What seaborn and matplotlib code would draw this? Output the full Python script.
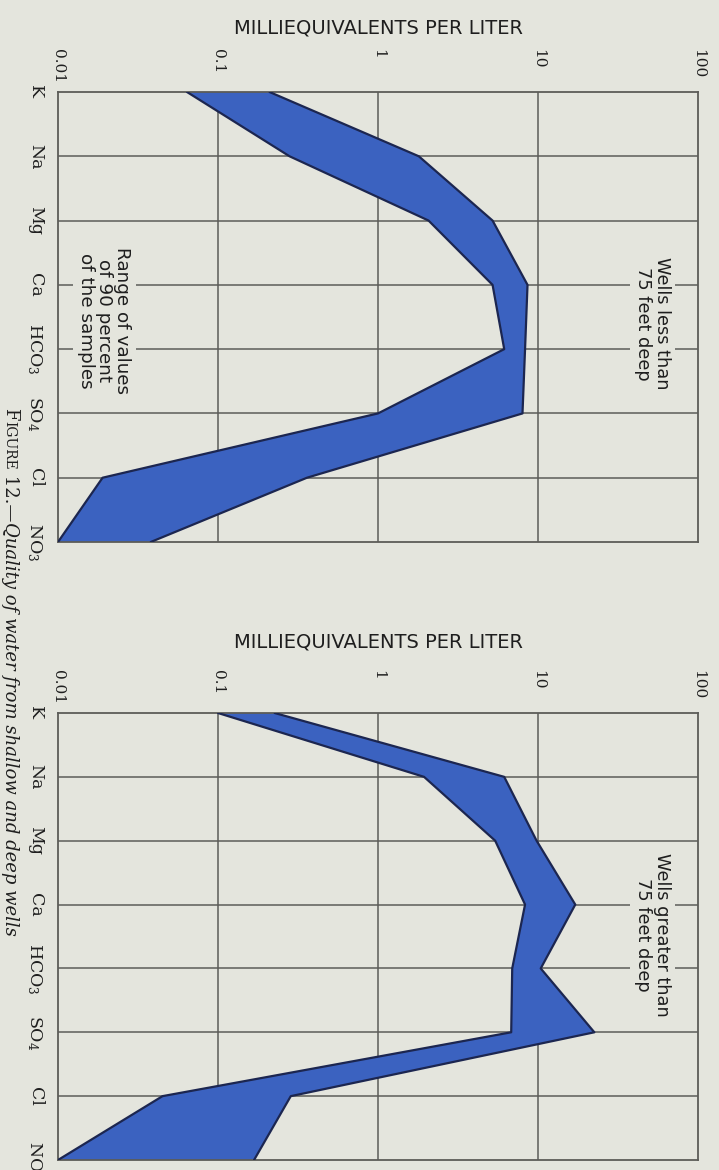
"""
plot.py
Quality of water from shallow and deep wells (Figure 12), page turned sideways.

Salida: out.png (719x1170)
"""

import numpy as np
import pandas as pd
import matplotlib
matplotlib.use("Agg")
import matplotlib.pyplot as plt
import seaborn as sns

# DATOS

IONS = ["K", "Na", "Mg", "Ca", "HCO$_3$", "SO$_4$", "Cl", "NO$_3$"]
TICK_VALUES = [0.01, 0.1, 1, 10, 100]
TICK_LABELS = ["0.01", "0.1", "1", "10", "100"]

# range of values of 90 percent of the samples, milliequivalents per liter
SHALLOW_LOW = [0.064, 0.28, 2.07, 5.2, 6.15, 1.0, 0.019, 0.01]
SHALLOW_HIGH = [0.21, 1.8, 5.2, 8.6, 8.3, 8.0, 0.36, 0.038]

DEEP_LOW = [0.10, 1.94, 5.4, 8.3, 6.9, 6.8, 0.045, 0.01]
DEEP_HIGH = [0.226, 6.15, 9.8, 17.1, 10.4, 22.5, 0.285, 0.168]

TITLE = "MILLIEQUIVALENTS PER LITER"
CAPTION_PARTS = [
    ("F", 13, "normal"),
    ("IGURE", 10, "normal"),
    (" 12.\u2014", 13, "normal"),
    ("Quality of water from shallow and deep wells", 13, "italic"),
]

# CONFIGURACION

W, H = 719, 1170
BG = "#e4e5dd"
FILL = "#3b62c0"
EDGE = "#1c2650"
GRID = "#5c5c58"
INK = "#1e1e1e"

sns.set_theme(style="white", rc={"axes.facecolor": BG, "figure.facecolor": BG})
plt.rcParams["font.family"] = ["DejaVu Sans"]
plt.rcParams["mathtext.fontset"] = "dejavuserif"


def draw_panel(ax, low, high, label, label_xy, title_off, show_range=False):
    df = pd.DataFrame({"pos": np.arange(len(IONS)), "low": low, "high": high})

    ax.set_xscale("log")
    ax.set_xlim(TICK_VALUES[0], TICK_VALUES[-1])
    ax.set_ylim(len(IONS) - 1, 0)

    # grid
    for v in TICK_VALUES[1:-1]:
        ax.axvline(v, color=GRID, lw=1.1, zorder=1)
    for p in df["pos"].iloc[1:-1]:
        ax.axhline(p, color=GRID, lw=1.1, zorder=1)

    # banda
    ax.fill_betweenx(df["pos"], df["low"], df["high"], facecolor=FILL,
                     edgecolor="none", zorder=2)
    for col in ["low", "high"]:
        sns.lineplot(data=df, x=col, y="pos", orient="y", sort=False,
                     estimator=None, color=EDGE, lw=1.6, ax=ax, zorder=3)
    ax.set_xlabel("")
    ax.set_ylabel("")

    for s in ax.spines.values():
        s.set_color(GRID)
        s.set_linewidth(1.3)
        s.set_visible(True)

    # ejes
    ax.minorticks_off()
    ax.set_xticks(TICK_VALUES)
    ax.set_xticklabels(TICK_LABELS, rotation=270, va="top", ha="center",
                       family="DejaVu Serif", fontsize=11, color=INK)
    ax.tick_params(axis="x", bottom=False, labelbottom=False, top=False,
                   labeltop=True, pad=25)
    ax.set_yticks(df["pos"])
    ax.set_yticklabels(IONS, rotation=270, va="center", ha="right",
                       family="DejaVu Serif", fontsize=12.5, color=INK)
    ax.tick_params(axis="y", left=False, pad=4)

    ax.annotate(TITLE, xy=(0.5, 1), xycoords="axes fraction",
                xytext=(0, title_off), textcoords="offset pixels",
                ha="center", va="center", fontsize=14, color=INK,
                family="DejaVu Sans")

    box = dict(facecolor=BG, edgecolor="none", pad=3)
    ax.text(label_xy[0], label_xy[1], label, rotation=270, ha="center",
            va="center", multialignment="center", fontsize=12.8,
            color=INK, linespacing=1.05, bbox=box, zorder=4)
    if show_range:
        ax.text(0.0195, 3.56, "Range of values\nof 90 percent\nof the samples",
                rotation=270, ha="center", va="center",
                multialignment="center", fontsize=13.2, color=INK,
                linespacing=1.0, bbox=box, zorder=4)


def main():
    fig = plt.figure(figsize=(W / 100, H / 100), dpi=100)
    ax_top = fig.add_axes([58 / W, 1 - 542 / H, 640 / W, 450 / H])
    ax_bot = fig.add_axes([58 / W, 1 - 1160 / H, 640 / W, 447 / H])

    draw_panel(ax_top, SHALLOW_LOW, SHALLOW_HIGH,
               "Wells less than\n75 feet deep", (52, 3.6), 64, show_range=True)
    draw_panel(ax_bot, DEEP_LOW, DEEP_HIGH,
               "Wells greater than\n75 feet deep", (52, 3.47), 71)

    # leyenda de la figura, pieza por pieza (versalitas)
    renderer = fig.canvas.get_renderer()
    x_px, y_px = 5, H - 408
    for txt, size, style in CAPTION_PARTS:
        t = fig.text(x_px / W, y_px / H, txt, rotation=270,
                     rotation_mode="anchor", ha="left", va="baseline",
                     fontsize=size, fontstyle=style, color=INK,
                     family="DejaVu Serif")
        bb = t.get_window_extent(renderer)
        y_px -= bb.height

    fig.savefig("out.png", dpi=100, facecolor=BG)


if __name__ == "__main__":
    main()
